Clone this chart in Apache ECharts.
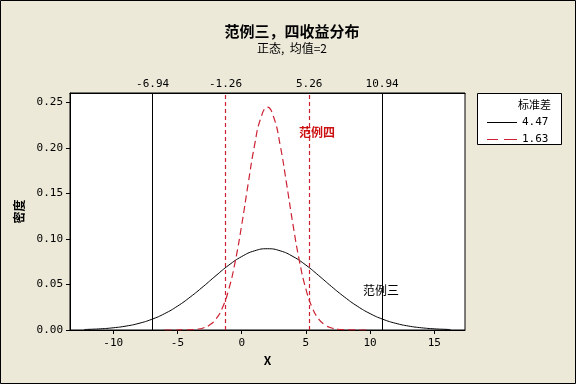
<!DOCTYPE html>
<html>
<head>
<meta charset="utf-8">
<script src="https://cdn.jsdelivr.net/npm/echarts@6/dist/echarts.min.js"></script>
<style>
html,body{margin:0;padding:0;background:#ECE9D8;}
#c{width:576px;height:384px;}
</style>
</head>
<body>
<div id="c"></div>
<script>
// Curve 1: sd = 4.47 (black solid)
const blackX = [-12.25,-12,-11,-10,-9,-8,-7,-6,-5,-4,-3,-2,-1,0,1,2,3,4,5,6,7,8,9,10,11,12,13,14,15,16,16.25];
const blackY = [0.00055,0.00066,0.00130,0.00243,0.00432,0.00731,0.01176,0.0180,0.0262,0.0363,0.0477,0.0598,0.0713,0.0807,0.0870,0.0893,0.0870,0.0807,0.0713,0.0598,0.0477,0.0363,0.0262,0.0180,0.01176,0.00731,0.00432,0.00243,0.00130,0.00066,0.00055];
// Curve 2: sd = 1.63 (red dashed)
const redX = [-6,-5.5,-5,-4.5,-4,-3.5,-3,-2.5,-2,-1.5,-1,-0.5,0,0.5,1,1.5,2,2.5,3,3.5,4,4.5,5,5.5,6,6.5,7,7.5,8,8.5,9,9.5,10];
const redY = [0,0,0.00002,0.00009,0.00028,0.00082,0.00222,0.00542,0.01206,0.0244,0.0450,0.0755,0.1153,0.1603,0.2028,0.2335,0.2448,0.2335,0.2028,0.1603,0.1153,0.0755,0.0450,0.0244,0.01206,0.00542,0.00222,0.00082,0.00028,0.00009,0.00002,0,0];
const blackLines = [-6.94, 10.94];
const redLines = [-1.26, 5.26];
const topTicks = [-6.94, -1.26, 5.26, 10.94];
const xTicks = [-10, -5, 0, 5, 10, 15];
const yTicks = [0, 0.05, 0.10, 0.15, 0.20, 0.25];
const legendNames = ['4.47', '1.63'];
const xMin = -13.37, xMax = 17.39, yMax = 0.2604;
const label3 = [10.85, 0.043];
const label4 = [5.86, 0.217];

const mono = '"DejaVu Sans Mono", monospace';
const cjk = '"Noto Sans CJK SC", sans-serif';
const redColor = '#cc2233';

const chart = echarts.init(document.getElementById('c'));
chart.setOption({
  backgroundColor: '#ECE9D8',
  animation: false,
  title: {
    text: '范例三，四收益分布',
    subtext: '正态,  均值=2',
    left: 287, textAlign: 'center', top: 19,
    itemGap: 3,
    textStyle: {fontFamily: cjk, fontWeight: 'bold', fontSize: 15, color: '#000'},
    subtextStyle: {fontFamily: cjk, fontSize: 12, color: '#000'}
  },
  grid: {left: 70, right: 111, top: 93, bottom: 54, show: true, backgroundColor: '#fff', borderColor: '#000', borderWidth: 1},
  legend: {
    orient: 'vertical', left: 482, top: 111, itemWidth: 30, itemHeight: 1, itemGap: 4,
    textStyle: {fontFamily: mono, fontSize: 11, color: '#000', lineHeight: 13},
    data: [
      {name: legendNames[0], icon: 'path://M0,0H30V1H0Z'},
      {name: legendNames[1], icon: 'path://M0,0H11V1H0Z M17,0H30V1H17Z'}
    ]
  },
  graphic: [
    {type: 'rect', shape: {x: 0.5, y: 0.5, width: 575, height: 383}, style: {fill: 'none', stroke: '#000', lineWidth: 1}, z: 100},
    {type: 'rect', shape: {x: 477.5, y: 93.5, width: 84, height: 51}, style: {fill: '#fff', stroke: '#000', lineWidth: 1}, z: -1},
    {type: 'text', left: 518, top: 99, style: {text: '标准差', font: '11px ' + cjk, fill: '#000'}}
  ],
  xAxis: [
    {
      type: 'value', min: xMin, max: xMax, position: 'bottom',
      name: 'X', nameLocation: 'middle', nameGap: 24,
      nameTextStyle: {fontFamily: cjk, fontWeight: 'bold', fontSize: 12, color: '#000'},
      axisLine: {show: true, onZero: false, lineStyle: {color: '#000', width: 1}},
      axisTick: {show: true, inside: false, length: 4, customValues: xTicks, lineStyle: {color: '#000'}},
      axisLabel: {customValues: xTicks, margin: 8, fontFamily: mono, fontSize: 11, color: '#000'},
      splitLine: {show: false}
    },
    {
      type: 'value', min: xMin, max: xMax, position: 'top',
      axisLine: {show: true, onZero: false, lineStyle: {color: '#000', width: 1}},
      axisTick: {show: false},
      axisLabel: {customValues: topTicks, margin: 3, fontFamily: mono, fontSize: 11, color: '#000', formatter: v => v.toFixed(2)},
      splitLine: {show: false}
    }
  ],
  yAxis: {
    type: 'value', min: 0, max: yMax, position: 'left',
    name: '密度', nameLocation: 'middle', nameGap: 44, nameRotate: 90,
    nameTextStyle: {fontFamily: cjk, fontWeight: 'bold', fontSize: 12, color: '#000'},
    axisLine: {show: true, onZero: false, lineStyle: {color: '#000', width: 1}},
    axisTick: {show: true, length: 4, customValues: yTicks, lineStyle: {color: '#000'}},
    axisLabel: {customValues: yTicks, margin: 7, fontFamily: mono, fontSize: 11, color: '#000', formatter: v => v.toFixed(2)},
    splitLine: {show: false}
  },
  series: [
    {
      name: legendNames[0], type: 'line', smooth: true, showSymbol: false, symbol: 'none',
      color: '#000', lineStyle: {color: '#000', width: 1},
      data: blackX.map((x, i) => [x, blackY[i]]),
      markLine: {
        silent: true, symbol: 'none', label: {show: false},
        lineStyle: {color: '#000', width: 1, type: 'solid'},
        data: blackLines.map(v => ({xAxis: v}))
      },
      markPoint: {
        symbol: 'circle', symbolSize: 0,
        label: {show: true, formatter: '范例三', fontFamily: cjk, fontSize: 12, color: '#000'},
        data: [{coord: label3}]
      }
    },
    {
      name: legendNames[1], type: 'line', smooth: true, showSymbol: false, symbol: 'none',
      color: redColor, lineStyle: {color: redColor, width: 1.2, type: [7, 4]},
      data: redX.map((x, i) => [x, redY[i]]),
      markLine: {
        silent: true, symbol: 'none', label: {show: false},
        lineStyle: {color: redColor, width: 1.2, type: [4, 3]},
        data: redLines.map(v => ({xAxis: v}))
      },
      markPoint: {
        symbol: 'circle', symbolSize: 0,
        label: {show: true, formatter: '范例四', fontFamily: cjk, fontSize: 12, fontWeight: 'bold', color: '#cc1111'},
        data: [{coord: label4}]
      }
    }
  ]
});
</script>
</body>
</html>
